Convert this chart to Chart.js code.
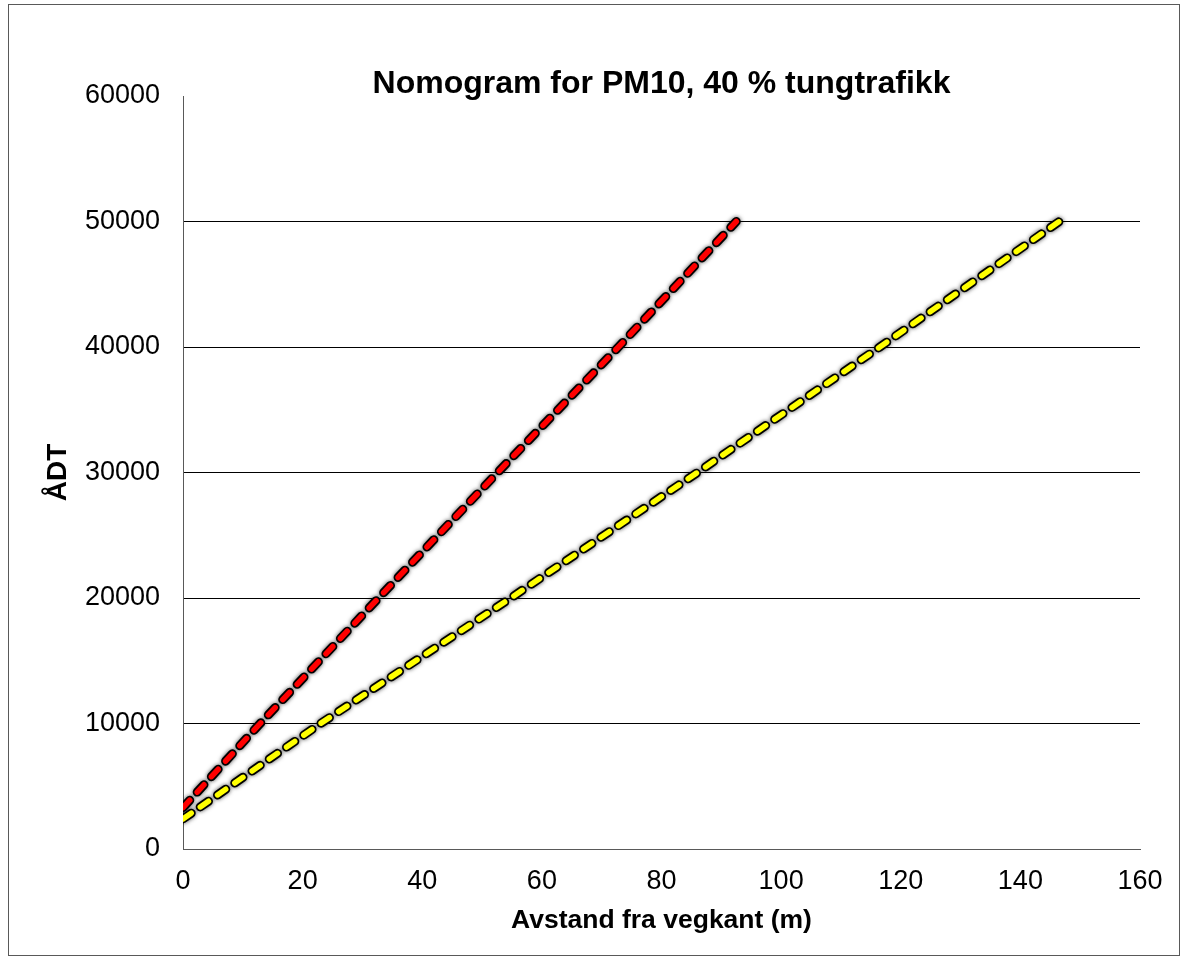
<!DOCTYPE html>
<html>
<head>
<meta charset="utf-8">
<title>Nomogram for PM10</title>
<script src="https://cdn.jsdelivr.net/npm/chart.js@4.4.1/dist/chart.umd.min.js"></script>
<style>
  html, body { margin: 0; padding: 0; background: #fff; }
  #wrap { width: 1181px; height: 960px; }
</style>
</head>
<body>
<div id="wrap"><canvas id="nomogram" width="1181" height="960"></canvas></div>
<script>
// data
const redDistance = [0, 12.9, 32.7, 52.6, 72.8, 92.5];
const redAdt = [3300, 10000, 20000, 30000, 40000, 50000];
const yellowDistance = [0, 23, 54.8, 86, 116.5, 146.5];
const yellowAdt = [2400, 10000, 20000, 30000, 40000, 50000];
const xTicks = [0, 20, 40, 60, 80, 100, 120, 140, 160];
const yTicks = [0, 10000, 20000, 30000, 40000, 50000, 60000];

const chartTitle = 'Nomogram for PM10, 40 % tungtrafikk';
const xTitle = 'Avstand fra vegkant (m)';
const yTitle = 'ÅDT';

const FONT = '"Liberation Sans", Arial, sans-serif';

function toPoints(xs, ys) {
    return xs.map((x, i) => ({ x: x, y: ys[i] }));
}

// outline (black, blurred) drawn under a coloured dashed line
function outlineSet(xs, ys) {
    return {
        data: toPoints(xs, ys),
        showLine: true,
        borderColor: '#000',
        borderWidth: 9,
        borderDash: [10, 11],
        borderCapStyle: 'round',
        borderJoinStyle: 'round',
        pointRadius: 0,
        clip: 0,
        order: 2,
        isOutline: true
    };
}

function dashSet(xs, ys, color) {
    return {
        data: toPoints(xs, ys),
        showLine: true,
        borderColor: color,
        borderWidth: 5.5,
        borderDash: [10, 11],
        borderCapStyle: 'round',
        borderJoinStyle: 'round',
        pointRadius: 0,
        clip: 0,
        order: 1
    };
}

const framePlugin = {
    id: 'frame',
    beforeDraw(chart) {
        const ctx = chart.ctx;
        ctx.save();
        ctx.fillStyle = '#fff';
        ctx.fillRect(0, 0, chart.width, chart.height);
        ctx.strokeStyle = '#595959';
        ctx.lineWidth = 1;
        ctx.strokeRect(8.5, 4.5, 1171, 951);
        ctx.restore();
    },
    beforeDatasetDraw(chart, args) {
        if (args.meta._dataset.isOutline) {
            chart.ctx.shadowColor = 'rgba(0,0,0,0.7)';
            chart.ctx.shadowBlur = 4;
        }
    },
    afterDatasetDraw(chart) {
        chart.ctx.shadowColor = 'rgba(0,0,0,0)';
        chart.ctx.shadowBlur = 0;
    },
    afterDraw(chart) {
        // title centred over the plot area
        const ctx = chart.ctx;
        const area = chart.chartArea;
        ctx.save();
        ctx.fillStyle = '#000';
        ctx.font = 'bold 32px ' + FONT;
        ctx.textAlign = 'center';
        ctx.textBaseline = 'alphabetic';
        ctx.fillText(chartTitle, (area.left + area.right) / 2, 93);
        ctx.restore();
    }
};

const ctx = document.getElementById('nomogram').getContext('2d');
new Chart(ctx, {
    type: 'scatter',
    data: {
        datasets: [
            outlineSet(redDistance, redAdt),
            dashSet(redDistance, redAdt, '#ff0000'),
            outlineSet(yellowDistance, yellowAdt),
            dashSet(yellowDistance, yellowAdt, '#ffff00')
        ]
    },
    options: {
        responsive: false,
        animation: false,
        layout: { padding: { top: 96, right: 41, left: 0, bottom: 0 } },
        plugins: {
            legend: { display: false },
            tooltip: { enabled: false },
            title: { display: false }
        },
        scales: {
            x: {
                type: 'linear',
                min: 0,
                max: 160,
                afterBuildTicks: s => { s.ticks = xTicks.map(v => ({ value: v })); },
                afterFit: s => { s.height = 111; },
                grid: { color: 'rgba(0,0,0,0)', drawTicks: false },
                border: { display: true, color: '#595959', width: 1 },
                ticks: {
                    color: '#000',
                    font: { family: FONT, size: 27 },
                    padding: 16,
                    callback: v => String(v)
                },
                title: {
                    display: true,
                    text: xTitle,
                    color: '#000',
                    font: { family: FONT, size: 26.5, weight: 'bold' },
                    padding: { top: 0, bottom: 23 }
                }
            },
            y: {
                type: 'linear',
                min: 0,
                max: 60000,
                afterBuildTicks: s => { s.ticks = yTicks.map(v => ({ value: v })); },
                afterFit: s => { s.width = 183; },
                grid: {
                    drawTicks: false,
                    color: c => (c.tick.value === 0 || c.tick.value === 60000) ? 'rgba(0,0,0,0)' : '#000',
                    lineWidth: 1
                },
                border: { display: true, color: '#595959', width: 1 },
                ticks: {
                    color: '#000',
                    font: { family: FONT, size: 27 },
                    padding: 23,
                    callback: v => String(v)
                },
                title: {
                    display: true,
                    text: yTitle,
                    color: '#000',
                    font: { family: FONT, size: 28, weight: 'bold' },
                    padding: { top: 41, bottom: 0 }
                }
            }
        }
    },
    plugins: [framePlugin]
});
</script>
</body>
</html>
